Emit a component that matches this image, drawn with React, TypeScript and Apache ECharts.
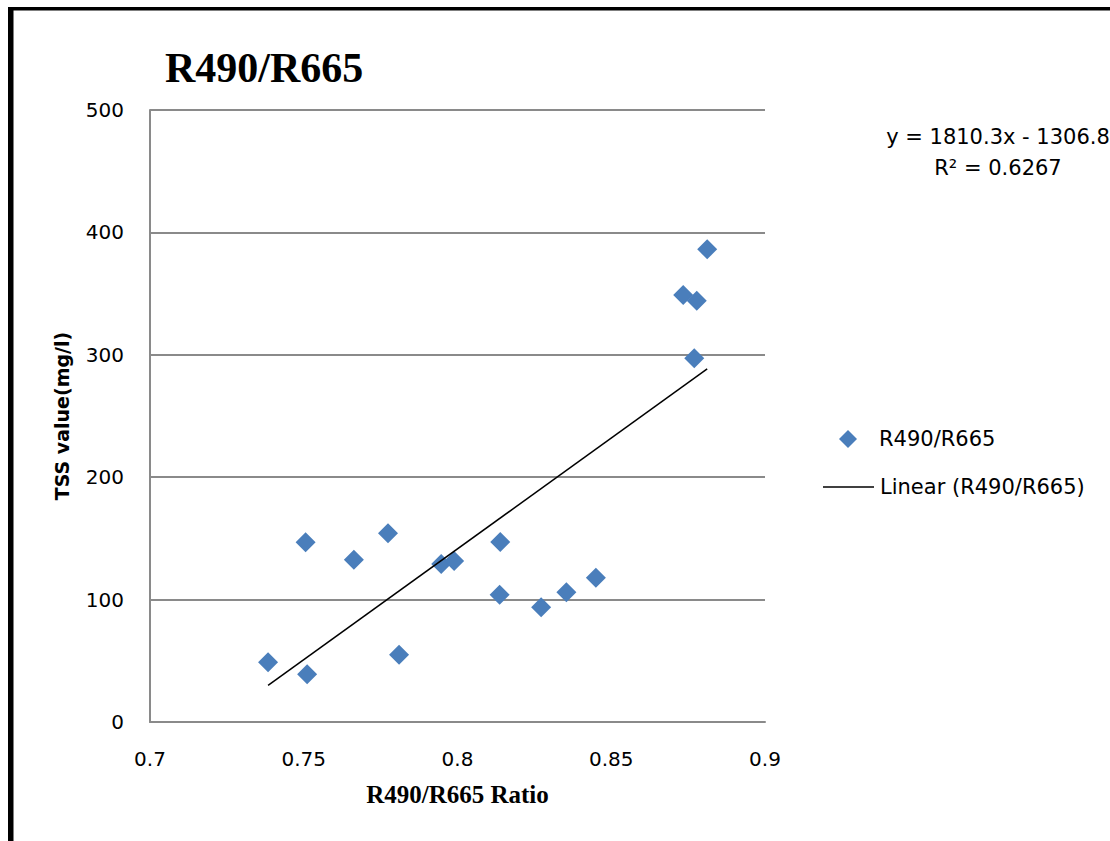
import React, { useEffect, useRef } from "react";
import * as echarts from "echarts";

const ratioX = [0.7384, 0.7506, 0.7511, 0.7663, 0.7774, 0.781, 0.7947, 0.7989, 0.8139, 0.8137, 0.8272, 0.8354, 0.845, 0.8734, 0.8778, 0.877, 0.8812];
const tssY = [48.8, 146.8, 39, 132.6, 154.2, 55, 129, 131.5, 147, 104, 93.7, 106, 117.9, 348.9, 344.2, 297.1, 386.2];
const slope = 1810.3;
const intercept = -1306.8;
const rSquared = 0.6267;
const seriesName = "R490/R665";
const trendName = "Linear (R490/R665)";
const titleText = "R490/R665";
const xAxisTitle = "R490/R665 Ratio";
const yAxisTitle = "TSS value(mg/l)";

const SANS = "'DejaVu Sans', sans-serif";
const SERIF = "'Liberation Serif', 'Times New Roman', serif";
const GRID = "#8a8a8a";
const BLUE = "#4A7EBB";

export default function App() {
  const ref = useRef<HTMLDivElement>(null);
  useEffect(() => {
    if (!ref.current) return;
    const chart = echarts.init(ref.current, undefined, { renderer: "svg" });
    const xMin = Math.min(...ratioX);
    const xMax = Math.max(...ratioX);
    const trend = [
      [xMin, slope * xMin + intercept],
      [xMax, slope * xMax + intercept],
    ];
    chart.setOption({
      animation: false,
      backgroundColor: "#ffffff",
      grid: { left: 150, top: 110, right: 345, bottom: 119, containLabel: false },
      xAxis: {
        type: "value",
        min: 0.7,
        max: 0.9,
        interval: 0.05,
        name: xAxisTitle,
        nameLocation: "middle",
        nameGap: 60,
        nameTextStyle: { fontFamily: SERIF, fontWeight: "bold", fontSize: 25, color: "#000" },
        axisLine: { show: true, lineStyle: { color: GRID, width: 2 } },
        axisTick: { show: false },
        splitLine: { show: false },
        axisLabel: { fontFamily: SANS, fontSize: 20, color: "#000", margin: 27 },
      },
      yAxis: {
        type: "value",
        min: 0,
        max: 500,
        interval: 100,
        name: yAxisTitle,
        nameLocation: "middle",
        nameGap: 79,
        nameTextStyle: { fontFamily: SANS, fontWeight: "bold", fontSize: 19, color: "#000" },
        axisLine: { show: true, lineStyle: { color: GRID, width: 2 } },
        axisTick: { show: false },
        splitLine: { show: true, lineStyle: { color: GRID, width: 2 } },
        axisLabel: { fontFamily: SANS, fontSize: 20, color: "#000", margin: 26 },
      },
      legend: [
        {
          orient: "vertical",
          left: 839,
          top: 428,
          itemWidth: 18,
          itemHeight: 18,
          padding: 0,
          textStyle: { fontFamily: SANS, fontSize: 21, color: "#000", lineHeight: 22, padding: [0, 0, 0, 17] },
          data: [{ name: seriesName, icon: "diamond", itemStyle: { color: BLUE, opacity: 1 } }],
        },
        {
          orient: "vertical",
          left: 823,
          top: 476,
          itemWidth: 51,
          itemHeight: 1.6,
          padding: 0,
          textStyle: { fontFamily: SANS, fontSize: 21, color: "#000", lineHeight: 22, padding: [0, 0, 0, 1] },
          data: [{ name: trendName, icon: "rect", itemStyle: { color: "#000" } }],
        },
      ],
      series: [
        {
          name: seriesName,
          type: "scatter",
          symbol: "diamond",
          symbolSize: 20,
          itemStyle: { color: BLUE, opacity: 1 },
          data: ratioX.map((x, i) => [x, tssY[i]]),
          z: 3,
        },
        {
          name: trendName,
          type: "line",
          symbol: "none",
          lineStyle: { color: "#000", width: 1.5 },
          itemStyle: { color: "#000" },
          data: trend,
          z: 4,
        },
      ],
      graphic: [
        { type: "rect", shape: { x: 8, y: 7, width: 1110, height: 3.5 }, style: { fill: "#000" } },
        { type: "rect", shape: { x: 8, y: 7, width: 5.5, height: 841 }, style: { fill: "#000" } },
        {
          type: "text",
          x: 165,
          y: 68,
          style: {
            text: titleText,
            fontFamily: SERIF,
            fontWeight: "bold",
            fontSize: 42,
            fill: "#000",
            textAlign: "left",
            textVerticalAlign: "middle",
          },
        },
        {
          type: "text",
          x: 998,
          y: 137,
          style: {
            text: `y = ${slope}x - ${Math.abs(intercept)}`,
            fontFamily: SANS,
            fontSize: 21,
            fill: "#000",
            textAlign: "center",
            textVerticalAlign: "middle",
          },
        },
        {
          type: "text",
          x: 998,
          y: 168,
          style: {
            text: `R² = ${rSquared}`,
            fontFamily: SANS,
            fontSize: 21,
            fill: "#000",
            textAlign: "center",
            textVerticalAlign: "middle",
          },
        },
      ],
    });
    return () => chart.dispose();
  }, []);
  return (
    <div
      ref={ref}
      style={{ position: "fixed", left: 0, top: 0, width: 1110, height: 841, background: "#fff" }}
    />
  );
}
